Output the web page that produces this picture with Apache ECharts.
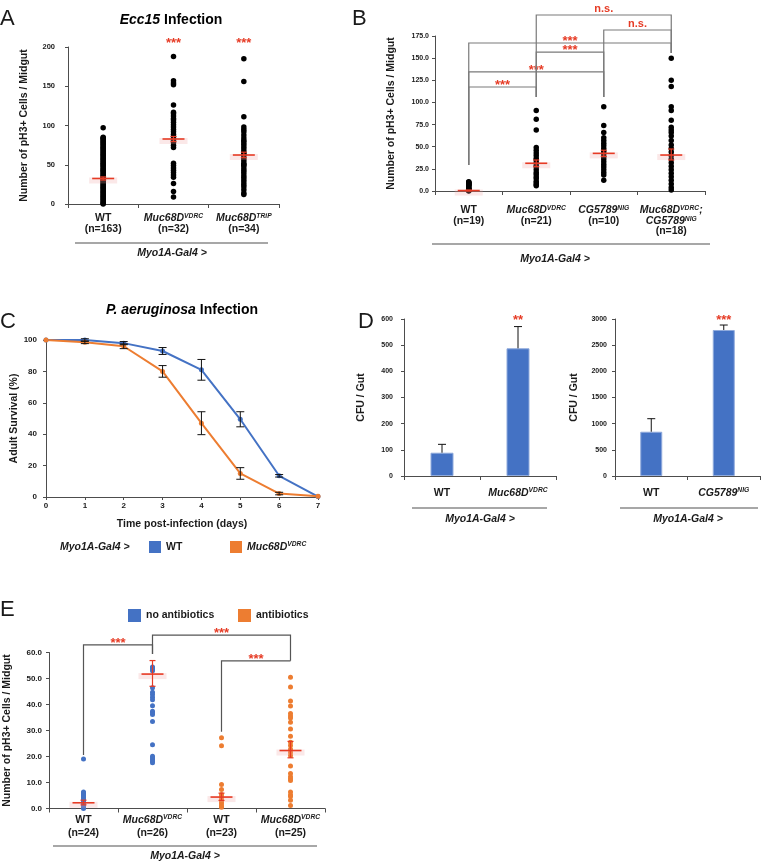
<!DOCTYPE html>
<html><head><meta charset="utf-8">
<script src="https://cdn.jsdelivr.net/npm/echarts@6/dist/echarts.min.js"></script>
<style>html,body{margin:0;padding:0;background:#fff}#c{width:762px;height:862px}</style>
</head><body><div id="c"></div>
<script>
// ================= DATA =================
// Panel A
const aCats = ['WT', 'Muc68D VDRC', 'Muc68D TRiP'];
const aTicks = ['WT\n(n=163)', 'Muc68D^VDRC\n(n=32)', 'Muc68D^TRiP\n(n=34)'];
const aWT = [97, 85, 84, 83, 82, 80, 79, 77, 76, 74, 73, 71, 70, 68, 67, 65, 64, 62, 61, 59, 58, 56, 55, 53, 52, 50, 49, 47, 46, 44, 43, 41, 40, 38, 37, 35, 34, 32, 31, 29, 28, 26, 25, 23, 22, 20, 19, 17, 16, 14, 13, 11, 10, 8, 7, 5, 4, 2, 1, 0];
const aVDRC = [188, 157, 154, 152, 126, 117, 115, 112, 109, 107, 104, 101, 98, 95, 92, 89, 86, 83, 81, 78, 75, 72, 52, 49, 46, 43, 40, 37, 34, 26, 16, 9];
const aTRiP = [185, 156, 111, 98, 95, 92, 88, 84, 81, 79, 76, 73, 70, 67, 64, 63, 61, 58, 55, 52, 50, 49, 46, 43, 40, 37, 34, 31, 28, 25, 22, 18, 14, 12];
const aMean = [32.5, 82.8, 62.4];
const aLo = [30.5, 79.5, 59];
const aHi = [34.5, 86, 66];
const aSigPos = [[1, 204], [2, 204]];
const aSigText = ['***', '***'];

// Panel B
const bCats = ['WT', 'Muc68D VDRC', 'CG5789 NIG', 'Muc68D VDRC; CG5789 NIG'];
const bTicks = ['WT\n(n=19)', 'Muc68D^VDRC\n(n=21)', 'CG5789^NIG\n(n=10)', 'Muc68D^VDRC^;\nCG5789^NIG\n(n=18)'];
const bWT = [10.5, 10, 9.5, 9, 8.5, 8, 7.5, 7, 6.5, 6, 5, 4, 3, 2.5, 2, 1.5, 1, 0.5, 0];
const bMuc = [91, 81, 69, 49, 46, 43, 40, 37, 35, 32, 29, 27, 24, 21, 19, 16, 14, 11, 9, 7, 6];
const bCG = [95, 74, 66, 60, 57, 54, 51, 48, 45, 42, 39, 36, 33, 30, 27, 24, 21, 18, 12];
const bDouble = [150, 125, 118, 95, 91, 80, 72, 69, 66, 62, 57, 52, 48, 44, 40, 36, 32, 28, 24, 20, 16, 12, 8, 4, 1];
const bMean = [0.5, 31.3, 42.5, 40.6];
const bLo = [0, 27.5, 39, 35];
const bHi = [1, 35, 46, 47.4];
// [fromCat, toCat, topValue, leftEndValue, rightEndValue]
const bBrackets = [[0, 1, 117.4, 29.4, 106], [0, 2, 134.4, 29.4, 106], [1, 2, 156.9, 106, 106], [0, 3, 167.1, 29.4, 155.8], [1, 3, 198.7, 106, 155.8], [2, 3, 181.8, 106, 155.8]];
const bBracketText = ['***', '***', '***', '***', 'n.s.', 'n.s.'];

// Panel C
const cDays = [0, 1, 2, 3, 4, 5, 6, 7];
const cWT = [100, 100, 98, 93, 81, 49.5, 13.5, 0.3];
const cWTerr = [0, 0.8, 1, 2.2, 6.6, 4.8, 0.8, 0];
const cMuc = [100, 98.5, 96, 80, 47, 15, 2.2, 0.5];
const cMucerr = [0, 0.8, 1.5, 3.7, 7.3, 3.7, 0.8, 0];
const cYTickMax = 100;

// Panel D
const d1Cats = ['WT', 'Muc68D VDRC'];
const d1Ticks = ['WT', 'Muc68D^VDRC'];
const d1Val = [89, 488];
const d1Hi = [121, 571];
const d1Sig = [[1, 596]];
const d1SigText = ['**'];
const d2Cats = ['WT', 'CG5789 NIG'];
const d2Ticks = ['WT', 'CG5789^NIG'];
const d2Val = [846, 2790];
const d2Hi = [1095, 2885];
const d2Sig = [[1, 2981]];
const d2SigText = ['***'];

// Panel E
const eCats = ['WT', 'Muc68D VDRC', 'WT abx', 'Muc68D VDRC abx'];
const eTicks = ['WT\n(n=24)', 'Muc68D^VDRC\n(n=26)', 'WT\n(n=23)', 'Muc68D^VDRC\n(n=25)'];
const eWT = [19, 6.3, 6, 5.5, 5, 4.5, 4, 3.5, 3, 2.5, 2, 1.5, 1, 0.5, 0];
const eMuc = [54.4, 54, 53.5, 53, 46.4, 44.7, 43.8, 42.8, 41.8, 39.5, 37.4, 36.8, 36.2, 33.5, 24.5, 20.1, 19.4, 18.8, 18.2, 17.6];
const eAbxWT = [27.2, 24.1, 9.2, 7.3, 5.4, 4.5, 3.5, 2.6, 1.8, 1, 0.5];
const eAbxMuc = [50.5, 46.7, 41.3, 39.4, 36.5, 35.6, 34.8, 33.2, 30.6, 27.8, 25.5, 24.2, 22.8, 21.5, 20.4, 16.3, 13.5, 12.2, 11.4, 10.8, 6.3, 5.2, 4.6, 3.2, 1.2];
const eMean = [2.2, 51.7, 4.4, 22.3];
const eLo = [1.4, 47, 3.1, 19.5];
const eHi = [3.2, 56.9, 5.9, 25.8];
const eBrackets = [[0, 1, 62.9, 20.6, 59.4], [1, 3, 66.7, 59.4, 56.8], [2, 3, 56.8, 29.5, 56.8]];
const eBracketText = ['***', '***', '***'];

// ================= STYLE / HELPERS =================
const FONT = "'Liberation Sans', Arial, Helvetica, sans-serif";
const TXT = '#1a1a1a';
const AX = '#4d4d4d';
const RED = '#E63B25';
const BLUE = '#4472C4';
const ORANGE = '#ED7D31';

function rich(size, lh) {
  return {
    n: {fontFamily: FONT, fontWeight: 'bold', fontSize: size, lineHeight: lh, color: TXT},
    g: {fontFamily: FONT, fontWeight: 'bold', fontStyle: 'italic', fontSize: size, lineHeight: lh, color: TXT},
    s: {fontFamily: FONT, fontWeight: 'bold', fontStyle: 'italic', fontSize: size * 0.64, lineHeight: size * 0.62, verticalAlign: 'top', color: TXT}
  };
}
function rt(str) {
  return str.split('\n').map(line => {
    const p = line.split('^');
    if (p.length === 1) return '{n|' + p[0] + '}';
    return p.map((t, i) => t ? (i % 2 ? '{s|' + t + '}' : '{g|' + t + '}') : '').join('');
  }).join('\n');
}
function yAx(gi, min, max, interval, dec, name, gap, size, margin) {
  return {
    type: 'value', gridIndex: gi, min, max, interval,
    axisLine: {show: true, lineStyle: {color: AX, width: 1}},
    axisTick: {show: true, length: 3, lineStyle: {color: AX}},
    splitLine: {show: false},
    axisLabel: {fontFamily: FONT, fontWeight: 'bold', fontSize: size, color: TXT, margin, formatter: v => v.toFixed(dec)},
    name, nameLocation: 'middle', nameGap: gap, nameRotate: 90,
    nameTextStyle: {fontFamily: FONT, fontWeight: 'bold', fontSize: 10.5, color: TXT}
  };
}
function xCat(gi, cats, ticks, margin, lh) {
  return {
    type: 'category', gridIndex: gi, data: cats,
    axisLine: {lineStyle: {color: AX}},
    axisTick: {show: true, length: 4, lineStyle: {color: AX}},
    axisLabel: {interval: 0, margin, formatter: (v, i) => rt(ticks[i]), rich: rich(10.5, lh),
      fontFamily: FONT, fontWeight: 'bold', fontSize: 10.5, color: TXT}
  };
}
function meanRender(hw, capW) {
  return function (params, api) {
    const x = api.value(0);
    const c = api.coord([x, api.value(1)]);
    const lo = api.coord([x, api.value(2)]);
    const hi = api.coord([x, api.value(3)]);
    return {type: 'group', children: [
      {type: 'rect', shape: {x: c[0] - hw - 3, y: c[1] - 1, width: 2 * hw + 6, height: 6}, style: {fill: 'rgba(240,165,165,0.25)'}},
      {type: 'line', shape: {x1: c[0] - hw, y1: c[1], x2: c[0] + hw, y2: c[1]}, style: {stroke: RED, lineWidth: 1.6}},
      {type: 'line', shape: {x1: c[0], y1: lo[1], x2: c[0], y2: hi[1]}, style: {stroke: RED, lineWidth: 1.2}},
      {type: 'line', shape: {x1: c[0] - capW, y1: lo[1], x2: c[0] + capW, y2: lo[1]}, style: {stroke: RED, lineWidth: 1.2}},
      {type: 'line', shape: {x1: c[0] - capW, y1: hi[1], x2: c[0] + capW, y2: hi[1]}, style: {stroke: RED, lineWidth: 1.2}}
    ]};
  };
}
function bracketRender(labels, lineColor) {
  return function (params, api) {
    const x1 = api.value(0), x2 = api.value(1), yt = api.value(2), yl = api.value(3), yr = api.value(4);
    const p1 = api.coord([x1, yl]), p2 = api.coord([x1, yt]), p3 = api.coord([x2, yt]), p4 = api.coord([x2, yr]);
    const lab = labels[params.dataIndex];
    const star = lab.indexOf('*') >= 0;
    return {type: 'group', children: [
      {type: 'polyline', shape: {points: [p1, p2, p3, p4]}, style: {stroke: lineColor, lineWidth: 1.2, fill: 'none'}},
      {type: 'text', style: {text: lab, x: (p2[0] + p3[0]) / 2, y: p2[1] - (star ? 1.5 : 6), textAlign: 'center', textVerticalAlign: 'middle',
        fill: RED, font: 'bold ' + (star ? 13 : 11) + 'px ' + FONT}}
    ]};
  };
}
function sigRender(labels) {
  return function (params, api) {
    const c = api.coord([api.value(0), api.value(1)]);
    return {type: 'text', style: {text: labels[params.dataIndex], x: c[0], y: c[1], textAlign: 'center', textVerticalAlign: 'middle', fill: RED, font: 'bold 13px ' + FONT}};
  };
}
function errRender(capW, both) {
  return function (params, api) {
    const x = api.value(0);
    const lo = api.coord([x, api.value(1)]);
    const hi = api.coord([x, api.value(2)]);
    const ch = [
      {type: 'line', shape: {x1: lo[0], y1: lo[1], x2: hi[0], y2: hi[1]}, style: {stroke: '#111', lineWidth: 1}},
      {type: 'line', shape: {x1: hi[0] - capW, y1: hi[1], x2: hi[0] + capW, y2: hi[1]}, style: {stroke: '#111', lineWidth: 1}}
    ];
    if (both) ch.push({type: 'line', shape: {x1: lo[0] - capW, y1: lo[1], x2: lo[0] + capW, y2: lo[1]}, style: {stroke: '#111', lineWidth: 1}});
    return {type: 'group', children: ch};
  };
}
const col = (i, arr) => arr.map(v => [i, v]);
const means = (m, lo, hi) => m.map((v, i) => [i, v, lo[i], hi[i]]);

// ================= OPTION =================
const grids = [
  {left: 68, top: 47, width: 211, height: 157},
  {left: 435, top: 36, width: 270, height: 155},
  {left: 46, top: 340, width: 272, height: 157},
  {left: 404, top: 319, width: 152, height: 157},
  {left: 615, top: 319, width: 145, height: 157},
  {left: 49, top: 652.5, width: 276, height: 156}
];

const xAxes = [
  xCat(0, aCats, aTicks, 9, 11),
  xCat(1, bCats, bTicks, 14, 10.5),
  {type: 'value', gridIndex: 2, min: 0, max: 7, interval: 1,
    axisLine: {lineStyle: {color: AX}}, axisTick: {show: true, length: 3, lineStyle: {color: AX}}, splitLine: {show: false},
    axisLabel: {fontFamily: FONT, fontWeight: 'bold', fontSize: 8, color: TXT, margin: 5},
    name: 'Time post-infection (days)', nameLocation: 'middle', nameGap: 22,
    nameTextStyle: {fontFamily: FONT, fontWeight: 'bold', fontSize: 10.5, color: TXT}},
  xCat(3, d1Cats, d1Ticks, 11, 12),
  xCat(4, d2Cats, d2Ticks, 11, 12),
  xCat(5, eCats, eTicks, 5.5, 12.5)
];
const yAxes = [
  yAx(0, 0, 200, 50, 0, 'Number of pH3+ Cells / Midgut', 38, 7.5, 13),
  yAx(1, 0, 175, 25, 1, 'Number of pH3+ Cells / Midgut', 38, 7, 6),
  yAx(2, 0, cYTickMax, 20, 0, 'Adult Survival (%)', 24, 8, 9),
  yAx(3, 0, 600, 100, 0, 'CFU / Gut', 37, 7, 11),
  yAx(4, 0, 3000, 500, 0, 'CFU / Gut', 35, 7, 8),
  yAx(5, 0, 60, 10, 1, 'Number of pH3+ Cells / Midgut', 36, 8, 7)
];

const dot = (name, xi, data, color, size) => ({
  type: 'scatter', name, xAxisIndex: xi, yAxisIndex: xi, data, symbolSize: size,
  itemStyle: {color, opacity: 1}, silent: true, z: 2
});
const meanSeries = (xi, data) => ({type: 'custom', xAxisIndex: xi, yAxisIndex: xi, renderItem: meanRender(11, 3),
  data, encode: {x: 0, y: [1, 2, 3]}, z: 5, silent: true});

const series = [
  // A
  dot('A WT', 0, col(0, aWT), '#000', 5.5),
  dot('A VDRC', 0, col(1, aVDRC), '#000', 5.5),
  dot('A TRiP', 0, col(2, aTRiP), '#000', 5.5),
  meanSeries(0, means(aMean, aLo, aHi)),
  {type: 'custom', xAxisIndex: 0, yAxisIndex: 0, renderItem: sigRender(aSigText), data: aSigPos, encode: {x: 0, y: 1}, z: 6, silent: true},
  // B
  dot('B WT', 1, col(0, bWT), '#000', 5.5),
  dot('B Muc', 1, col(1, bMuc), '#000', 5.5),
  dot('B CG', 1, col(2, bCG), '#000', 5.5),
  dot('B Double', 1, col(3, bDouble), '#000', 5.5),
  meanSeries(1, means(bMean, bLo, bHi)),
  {type: 'custom', xAxisIndex: 1, yAxisIndex: 1, renderItem: bracketRender(bBracketText, '#7a7a7a'), data: bBrackets, encode: {x: [0, 1], y: [2, 3, 4]}, z: 6, silent: true},
  // C
  {type: 'line', name: 'WT', xAxisIndex: 2, yAxisIndex: 2, data: cDays.map((d, i) => [d, cWT[i]]), symbol: 'circle', symbolSize: 5,
    lineStyle: {color: BLUE, width: 2}, itemStyle: {color: BLUE}, z: 3, silent: true},
  {type: 'line', name: 'Muc68D', xAxisIndex: 2, yAxisIndex: 2, data: cDays.map((d, i) => [d, cMuc[i]]), symbol: 'circle', symbolSize: 5,
    lineStyle: {color: ORANGE, width: 2}, itemStyle: {color: ORANGE}, z: 3, silent: true},
  {type: 'custom', xAxisIndex: 2, yAxisIndex: 2, renderItem: errRender(4, true), encode: {x: 0, y: [1, 2]},
    data: cDays.filter((d, i) => cWTerr[i] > 0).map(d => [d, cWT[d] - cWTerr[d], cWT[d] + cWTerr[d]]), z: 4, silent: true},
  {type: 'custom', xAxisIndex: 2, yAxisIndex: 2, renderItem: errRender(4, true), encode: {x: 0, y: [1, 2]},
    data: cDays.filter((d, i) => cMucerr[i] > 0).map(d => [d, cMuc[d] - cMucerr[d], cMuc[d] + cMucerr[d]]), z: 4, silent: true},
  // D
  {type: 'bar', xAxisIndex: 3, yAxisIndex: 3, data: d1Val, barWidth: 23, itemStyle: {color: BLUE, borderColor: '#8FAADC', borderWidth: 1}, silent: true},
  {type: 'custom', xAxisIndex: 3, yAxisIndex: 3, renderItem: errRender(4, false), encode: {x: 0, y: [1, 2]}, data: d1Val.map((v, i) => [i, v, d1Hi[i]]), z: 4, silent: true},
  {type: 'custom', xAxisIndex: 3, yAxisIndex: 3, renderItem: sigRender(d1SigText), data: d1Sig, encode: {x: 0, y: 1}, z: 6, silent: true},
  {type: 'bar', xAxisIndex: 4, yAxisIndex: 4, data: d2Val, barWidth: 22, itemStyle: {color: BLUE, borderColor: '#8FAADC', borderWidth: 1}, silent: true},
  {type: 'custom', xAxisIndex: 4, yAxisIndex: 4, renderItem: errRender(4, false), encode: {x: 0, y: [1, 2]}, data: d2Val.map((v, i) => [i, v, d2Hi[i]]), z: 4, silent: true},
  {type: 'custom', xAxisIndex: 4, yAxisIndex: 4, renderItem: sigRender(d2SigText), data: d2Sig, encode: {x: 0, y: 1}, z: 6, silent: true},
  // E
  dot('no antibiotics', 5, col(0, eWT).concat(col(1, eMuc)), BLUE, 5),
  dot('antibiotics', 5, col(2, eAbxWT).concat(col(3, eAbxMuc)), ORANGE, 5),
  meanSeries(5, means(eMean, eLo, eHi)),
  {type: 'custom', xAxisIndex: 5, yAxisIndex: 5, renderItem: bracketRender(eBracketText, '#555'), data: eBrackets, encode: {x: [0, 1], y: [2, 3, 4]}, z: 6, silent: true}
];

const legBase = {icon: 'rect', itemWidth: 12, itemHeight: 12, itemGap: 0, padding: 0, selectedMode: false,
  textStyle: {fontFamily: FONT, fontWeight: 'bold', fontSize: 10.5, color: TXT}};
const legends = [
  Object.assign({}, legBase, {data: ['WT'], left: 149, top: 541}),
  Object.assign({}, legBase, {data: ['Muc68D'], left: 230, top: 541, formatter: () => rt('Muc68D^VDRC'),
    textStyle: {fontFamily: FONT, fontWeight: 'bold', fontSize: 10.5, color: TXT, rich: rich(10.5, 12)}}),
  Object.assign({}, legBase, {data: ['no antibiotics'], left: 128, top: 609, itemWidth: 13, itemHeight: 13}),
  Object.assign({}, legBase, {data: ['antibiotics'], left: 238, top: 609, itemWidth: 13, itemHeight: 13})
];

const txt = (x, y, text, font, align) => ({type: 'text', x, y, silent: true,
  style: {text, font, fill: TXT, textAlign: align || 'center', textVerticalAlign: 'middle'}});
const hline = (x1, x2, y) => ({type: 'line', silent: true, shape: {x1, y1: y, x2, y2: y}, style: {stroke: '#8a8a8a', lineWidth: 1.5}});
const BI = 'italic bold 10.5px ' + FONT;
const titleRich = {
  i: {fontFamily: FONT, fontWeight: 'bold', fontStyle: 'italic', fontSize: 14, color: TXT},
  b: {fontFamily: FONT, fontWeight: 'bold', fontSize: 14, color: TXT}
};
const graphics = [
  txt(0, 19, 'A', '22px ' + FONT, 'left'),
  txt(352, 19, 'B', '22px ' + FONT, 'left'),
  txt(0, 322, 'C', '22px ' + FONT, 'left'),
  txt(358, 322, 'D', '22px ' + FONT, 'left'),
  txt(0, 610, 'E', '22px ' + FONT, 'left'),
  {type: 'text', x: 171, y: 20, silent: true, style: {text: '{i|Ecc15}{b| Infection}', rich: titleRich, textAlign: 'center', textVerticalAlign: 'middle'}},
  {type: 'text', x: 182, y: 310, silent: true, style: {text: '{i|P. aeruginosa}{b| Infection}', rich: titleRich, textAlign: 'center', textVerticalAlign: 'middle'}},
  hline(75, 268, 243), txt(172, 253, 'Myo1A-Gal4 >', BI),
  hline(432, 710, 244), txt(555, 259, 'Myo1A-Gal4 >', BI),
  txt(60, 547, 'Myo1A-Gal4 >', BI, 'left'),
  hline(412, 547, 508), txt(480, 519, 'Myo1A-Gal4 >', BI),
  hline(620, 758, 508), txt(688, 519, 'Myo1A-Gal4 >', BI),
  hline(53, 317, 846), txt(185, 856, 'Myo1A-Gal4 >', BI)
];

const chart = echarts.init(document.getElementById('c'), null, {renderer: 'canvas'});
chart.setOption({
  backgroundColor: '#fff',
  animation: false,
  textStyle: {fontFamily: FONT},
  grid: grids,
  xAxis: xAxes,
  yAxis: yAxes,
  legend: legends,
  series,
  graphic: graphics
});
</script>
</body></html>
